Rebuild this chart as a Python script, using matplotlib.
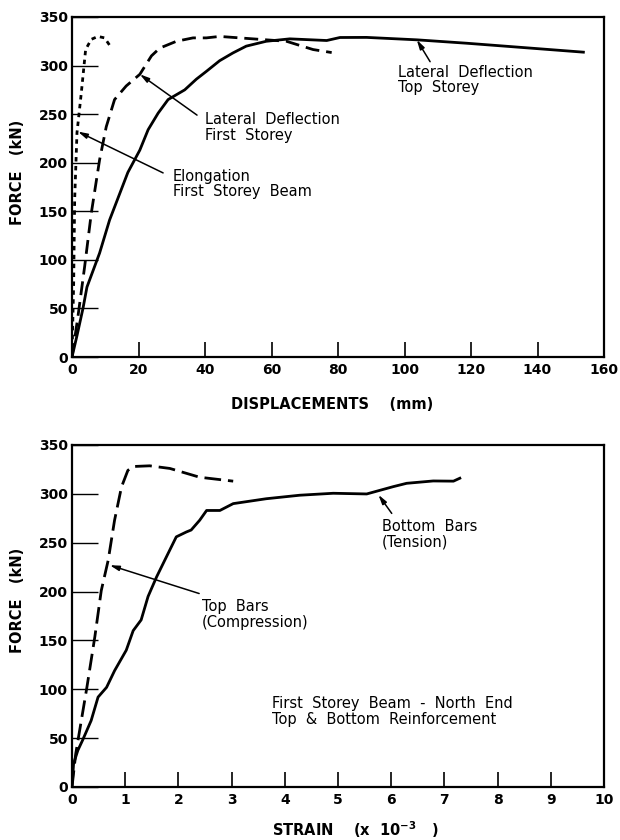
import matplotlib
matplotlib.use("Agg")
import matplotlib.pyplot as plt

plt.rcParams['font.family'] = ['DejaVu Sans']
plt.rcParams['mathtext.fontset'] = 'custom'
plt.rcParams['mathtext.rm'] = 'DejaVu Sans:bold'
plt.rcParams['mathtext.bf'] = 'DejaVu Sans:bold'

# ---- top panel data: displacement (mm) vs force (kN) ----
top_storey_x = [0, 1.5, 3.3, 4.5, 8.3, 11.3, 16.8, 20.4, 22.9, 25.9, 28.9, 33.9, 37.4, 40.4, 44.4,
                48.4, 52.4, 58.4, 65.5, 76.6, 80.6, 88.6, 103.7, 118.7, 131.7, 153.8]
top_storey_f = [0, 22, 50, 72, 107, 141, 190, 213, 234, 251, 265, 275, 286, 294, 305,
                313, 320, 325, 327.5, 325.8, 328.9, 329, 326.5, 323, 319.6, 313.8]

first_storey_x = [0, 1.8, 3.8, 5.8, 8.3, 10.3, 12.8, 16.3, 20.4, 23.9, 26.4, 31.4, 36.4,
                  40.4, 44.4, 54.4, 64.5, 72.5, 78.1]
first_storey_f = [0, 42, 93, 148, 203, 237, 265, 279, 291, 310, 318, 325, 328.5,
                  328.5, 330, 327.5, 325, 316.5, 313.4]

elong_x = [0, 0.5, 0.8, 1.5, 2.8, 4.1, 5.8, 7.8, 9.8, 11.8]
elong_f = [0, 76, 162, 231, 272, 316.5, 327, 330, 328.5, 318.5]

top_xticks = [0, 20, 40, 60, 80, 100, 120, 140, 160]
force_ticks = [0, 50, 100, 150, 200, 250, 300, 350]

# ---- bottom panel data: strain (x10^-3) vs force (kN) ----
topbars_s = [0, 0.07, 0.175, 0.28, 0.43, 0.55, 0.68, 0.80, 0.93, 1.05, 1.15, 1.46, 1.84, 2.4, 3.03]
topbars_f = [0, 34, 68, 102, 154, 201, 232, 273, 307, 324, 328, 328.7, 326, 317, 313]

botbars_s = [0, 0.03, 0.11, 0.2, 0.36, 0.49, 0.65, 0.8, 1.02, 1.15, 1.3, 1.43, 1.59, 1.77,
             1.96, 2.15, 2.24, 2.4, 2.53, 2.78, 3.03, 3.65, 4.28, 4.91, 5.54, 6.04, 6.29,
             6.79, 7.17, 7.29]
botbars_f = [0, 24, 37.5, 48, 68, 92, 102, 119, 140, 160, 171, 195, 215, 235,
             256, 261, 263, 273, 283, 283, 290, 295, 298.6, 300.6, 299.9, 307.4, 310.8,
             313.2, 313, 316]

bot_xticks = list(range(0, 11))

fig = plt.figure(figsize=(6.2, 8.4), dpi=100)
ax1 = fig.add_axes([72/620, 1-357/840, 532/620, 340/840])
ax2 = fig.add_axes([72/620, 1-787/840, 532/620, 342/840])

lw = 2.0
ax1.plot(top_storey_x, top_storey_f, color='black', lw=lw, solid_joinstyle='round')
ax1.plot(first_storey_x, first_storey_f, color='black', lw=lw, dashes=(5, 2.5))
ax1.plot(elong_x, elong_f, color='black', lw=lw, dashes=(1.6, 1.6))

ax2.plot(topbars_s, topbars_f, color='black', lw=lw, dashes=(6, 2.5))
ax2.plot(botbars_s, botbars_f, color='black', lw=lw, solid_joinstyle='round')

for ax, xt, xmax in ((ax1, top_xticks, 160), (ax2, bot_xticks, 10)):
    ax.set_xlim(0, xmax)
    ax.set_ylim(0, 350)
    ax.set_xticks(xt)
    ax.set_yticks(force_ticks)
    ax.tick_params(axis='y', which='major', left=True, direction='in', length=19,
                   width=1.0, pad=3, labelsize=10)
    ax.tick_params(axis='x', which='major', bottom=True, direction='in', length=11,
                   width=1.2, pad=4, labelsize=10)
    for lab in ax.get_xticklabels() + ax.get_yticklabels():
        lab.set_fontweight('bold')
    for sp in ax.spines.values():
        sp.set_linewidth(1.6)
    ax.set_ylabel('FORCE   (kN)', fontsize=10.5, fontweight='bold')

ax1.yaxis.set_label_coords(-0.088, 0.544)
ax2.yaxis.set_label_coords(-0.088, 0.547)

ax1.set_xlabel('DISPLACEMENTS    (mm)', fontsize=10.5, fontweight='bold')
ax1.xaxis.set_label_coords(0.489, -0.118)
ax2.set_xlabel(r'STRAIN    (x  10$^{-3}$   )', fontsize=10.5, fontweight='bold')
ax2.xaxis.set_label_coords(0.532, -0.094)

arrow = dict(arrowstyle='-|>,head_length=0.55,head_width=0.15', color='black',
             lw=1.1, shrinkA=0, shrinkB=0)
tfs = 10.5
ls = 1.05

# top annotations
ax1.annotate('', xy=(20.4, 291), xytext=(37.6, 249), arrowprops=arrow)
ax1.text(40, 252, 'Lateral  Deflection\nFirst  Storey', fontsize=tfs,
         ha='left', va='top', linespacing=ls)
ax1.annotate('', xy=(1.8, 232), xytext=(27.4, 189.5), arrowprops=arrow)
ax1.text(30.4, 194, 'Elongation\nFirst  Storey  Beam', fontsize=tfs,
         ha='left', va='top', linespacing=ls)
ax1.annotate('', xy=(103.7, 326.5), xytext=(107.7, 304), arrowprops=arrow)
ax1.text(98, 301, 'Lateral  Deflection\nTop  Storey', fontsize=tfs,
         ha='left', va='top', linespacing=ls)

# bottom annotations
ax2.annotate('', xy=(0.71, 227), xytext=(2.39, 198), arrowprops=arrow)
ax2.text(2.44, 192, 'Top  Bars\n(Compression)', fontsize=tfs,
         ha='left', va='top', linespacing=ls)
ax2.annotate('', xy=(5.76, 299), xytext=(6.01, 280), arrowprops=arrow)
ax2.text(5.82, 274, 'Bottom  Bars\n(Tension)', fontsize=tfs,
         ha='left', va='top', linespacing=ls)
ax2.text(3.76, 93, 'First  Storey  Beam  -  North  End\nTop  &  Bottom  Reinforcement',
         fontsize=tfs, ha='left', va='top', linespacing=ls)

fig.savefig('out.png', dpi=100)
